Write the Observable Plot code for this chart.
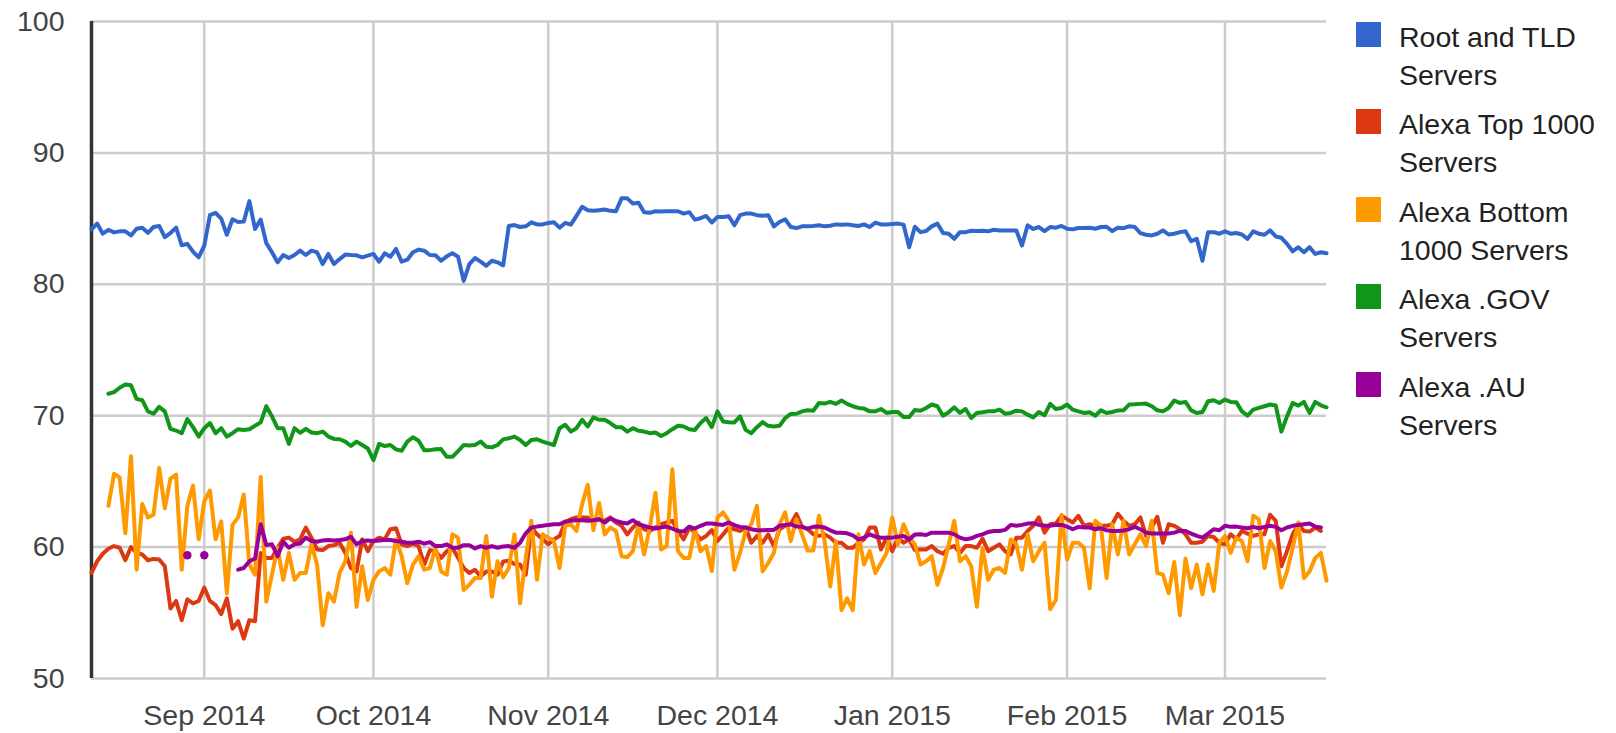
<!DOCTYPE html>
<html><head><meta charset="utf-8">
<script src="https://cdn.jsdelivr.net/npm/d3@7"></script>
<script src="https://cdn.jsdelivr.net/npm/@observablehq/plot@0.6"></script>
<style>
body{margin:0;background:#fff;}
#wrap{position:relative;width:1616px;height:733px;font-family:"Liberation Sans",Arial,sans-serif;}
.item{position:absolute;left:1356px;width:260px;height:80px;}
.sw{position:absolute;left:0;top:0;width:25px;height:25px;}
.lab{position:absolute;left:43px;top:-4px;font-size:28.5px;line-height:38px;color:#222;white-space:nowrap;}
</style></head>
<body><div id="wrap"></div>
<script>
// Daily series, first day = startDate, index = day offset
const startDate = [2014, 7, 12];   // 12 Aug 2014 (UTC)
const endDate = [2015, 2, 19];     // 19 Mar 2015
const seriesNames = ["Root and TLD Servers", "Alexa Top 1000 Servers", "Alexa Bottom 1000 Servers", "Alexa .GOV Servers", "Alexa .AU Servers"];
const legendLines = [["Root and TLD", "Servers"], ["Alexa Top 1000", "Servers"], ["Alexa Bottom", "1000 Servers"], ["Alexa .GOV", "Servers"], ["Alexa .AU", "Servers"]];
const seriesColors = ["#3366cc", "#dc3912", "#ff9900", "#109618", "#990099"];
const yTicks = [50, 60, 70, 80, 90, 100];

const rootTld = [
84.18,84.62,83.85,84.15,83.95,84.03,84.03,83.72,84.23,84.31,
83.92,84.36,84.44,83.59,83.90,84.31,82.97,83.08,82.49,82.05,
82.95,85.26,85.44,85.00,83.77,84.95,84.74,84.77,86.33,84.21,
84.92,83.13,82.44,81.67,82.23,82.00,82.23,82.56,82.23,82.56,
82.44,81.54,82.31,81.54,81.92,82.26,82.23,82.21,82.05,82.18,
82.31,81.72,82.36,82.10,82.69,81.72,81.87,82.44,82.64,82.56,
82.23,82.21,81.79,82.13,82.36,82.10,80.26,81.54,82.00,81.72,
81.41,81.79,81.67,81.44,84.44,84.51,84.36,84.41,84.72,84.56,
84.56,84.67,84.72,84.31,84.67,84.54,85.21,85.90,85.64,85.59,
85.64,85.69,85.59,85.56,86.54,86.54,86.15,86.21,85.49,85.44,
85.56,85.54,85.56,85.56,85.56,85.38,85.49,84.92,85.03,85.20,
84.70,85.13,85.13,85.18,84.49,85.26,85.38,85.38,85.26,85.21,
85.26,84.41,84.74,84.95,84.36,84.28,84.41,84.41,84.44,84.49,
84.41,84.46,84.56,84.54,84.56,84.49,84.44,84.56,84.36,84.69,
84.56,84.56,84.59,84.62,84.54,82.82,84.38,83.97,84.05,84.41,
84.62,83.90,83.85,83.46,83.97,83.97,84.08,84.05,84.08,84.03,
84.15,84.10,84.10,84.10,84.10,82.95,84.49,84.21,84.36,84.05,
84.36,84.31,84.44,84.23,84.18,84.28,84.28,84.31,84.23,84.36,
84.38,84.05,84.31,84.27,84.41,84.36,83.90,83.77,83.72,83.85,
84.10,83.79,83.85,83.97,84.03,83.28,83.46,81.79,83.97,83.97,
83.85,84.03,83.85,83.90,83.79,83.46,84.03,83.85,83.77,84.10,
83.64,83.54,83.08,82.51,82.82,82.44,82.82,82.31,82.44,82.36];

const alexaTop = [
58.03,58.92,59.49,59.87,60.08,59.95,59.00,60.00,59.56,59.44,
59.00,59.10,59.05,58.54,55.33,55.90,54.44,56.03,55.72,55.90,
56.92,55.90,55.59,54.90,56.10,53.79,54.36,53.03,54.44,54.36,
59.56,59.18,59.18,59.95,60.64,60.72,60.40,60.60,61.49,60.72,
59.82,59.77,60.08,60.15,60.33,59.56,58.41,58.15,60.59,59.69,
60.46,60.72,60.59,61.36,61.44,60.21,60.08,60.26,60.08,58.67,
59.77,59.69,59.18,59.69,59.95,59.18,58.41,58.03,58.28,57.77,
58.15,58.15,57.90,58.90,58.97,58.72,58.67,57.90,61.49,60.97,
60.59,60.21,60.59,60.85,61.87,62.13,62.26,62.26,62.26,61.87,
62.13,62.00,62.26,61.87,61.62,60.97,61.49,61.87,61.36,61.23,
61.49,61.74,61.87,62.00,61.23,60.59,61.49,61.10,60.59,60.85,
61.30,60.46,60.97,61.49,61.36,61.23,61.49,60.33,60.85,60.33,
60.97,60.08,61.36,61.62,61.74,62.51,61.54,61.36,60.97,60.85,
60.97,60.72,60.33,60.33,59.95,59.95,60.33,60.59,61.49,61.49,
59.82,60.72,59.69,60.72,60.33,60.59,59.78,59.82,59.82,60.08,
59.69,59.49,59.95,60.08,59.56,60.08,60.08,59.95,60.64,59.69,
59.95,60.21,59.69,59.44,60.72,60.72,61.23,61.62,62.26,61.10,
61.74,61.79,62.38,62.13,61.87,62.38,61.62,61.74,61.62,61.62,
61.62,61.74,62.54,62.00,61.62,61.74,62.26,60.85,61.49,62.31,
60.33,61.74,61.62,61.36,60.97,60.33,60.33,60.41,60.85,60.77,
60.33,60.21,60.97,60.59,61.23,61.03,60.85,60.97,60.97,62.46,
62.00,58.54,59.69,60.97,61.74,61.23,61.18,61.49,61.23,null];

const alexaBottom = [
null,null,null,63.15,65.59,65.28,61.05,66.92,58.28,63.28,
62.26,62.46,66.03,62.95,65.21,65.51,58.28,63.15,64.69,60.59,
63.49,64.31,60.59,61.95,56.49,61.69,62.26,64.00,58.67,57.90,
65.33,55.85,57.90,59.95,57.51,59.56,57.51,58.03,58.03,60.21,
58.67,54.05,56.49,55.85,58.03,58.92,61.10,55.46,58.54,55.97,
57.51,58.15,58.41,57.90,60.59,59.31,57.26,58.67,59.31,58.28,
58.41,59.95,58.15,57.90,60.97,60.72,56.74,57.13,57.64,57.64,
60.85,56.23,58.92,57.70,58.41,60.97,55.72,59.18,62.00,57.51,
60.97,60.72,60.46,58.41,61.62,61.74,61.23,63.28,64.74,61.28,
63.36,60.97,61.49,61.23,59.31,59.23,59.69,61.74,59.44,61.49,
64.13,59.82,60.08,65.92,59.69,59.18,59.18,61.36,59.69,60.08,
58.18,62.26,62.64,62.00,58.28,59.56,61.23,61.74,63.15,58.15,
58.79,59.56,61.74,62.64,60.46,62.13,60.97,59.74,59.74,62.38,
60.46,57.00,60.46,55.21,56.10,55.21,60.97,58.67,59.69,58.03,
58.79,59.56,62.26,60.21,61.74,60.72,60.21,58.67,58.92,59.31,
57.13,58.41,60.21,62.00,58.92,59.31,58.54,55.46,59.95,57.51,
58.28,58.41,58.03,60.59,60.21,58.28,60.97,58.92,59.69,60.33,
55.28,55.97,62.46,59.05,60.33,60.33,59.95,56.87,62.00,61.62,
57.64,61.74,59.44,62.00,59.44,60.21,60.97,60.08,62.00,58.03,
57.90,56.49,58.87,54.82,59.13,56.87,58.67,56.41,58.67,56.67,
60.33,60.85,59.56,60.72,60.46,58.92,62.38,62.13,58.41,60.46,
59.69,56.92,58.15,59.95,61.87,57.64,58.15,59.18,59.56,57.44];

const alexaGov = [
null,null,null,71.67,71.79,72.13,72.38,72.31,71.28,71.18,
70.33,70.15,70.67,70.33,69.00,68.87,68.67,69.74,69.13,68.41,
69.05,69.44,68.67,69.05,68.41,68.67,68.97,68.92,68.97,69.23,
69.49,70.72,69.95,69.05,69.05,67.85,69.05,68.70,69.00,68.72,
68.67,68.79,68.41,68.23,68.21,68.03,67.69,68.03,67.77,67.51,
66.62,67.85,67.69,67.77,67.44,67.33,68.03,68.36,68.10,67.38,
67.38,67.44,67.46,66.87,66.87,67.31,67.77,67.74,67.77,68.03,
67.64,67.59,67.77,68.20,68.28,68.41,68.15,67.77,68.15,68.21,
68.03,67.90,67.77,69.05,69.31,68.79,69.05,69.69,69.18,69.87,
69.69,69.69,69.44,69.13,69.13,68.79,69.05,68.85,68.79,68.67,
68.72,68.46,68.67,68.97,69.23,69.18,68.97,68.92,69.44,69.82,
69.13,70.33,69.56,69.51,69.49,69.95,68.92,68.67,69.13,69.51,
69.23,69.18,69.23,69.82,70.13,70.15,70.33,70.41,70.38,70.97,
70.92,71.05,70.90,71.15,70.90,70.72,70.59,70.54,70.33,70.33,
70.51,70.21,70.28,70.28,69.90,69.90,70.44,70.38,70.59,70.85,
70.72,70.00,70.26,70.64,70.21,70.51,69.82,70.21,70.26,70.33,
70.33,70.46,70.15,70.21,70.38,70.33,70.08,69.87,70.28,70.03,
70.90,70.51,70.59,70.85,70.46,70.33,70.21,70.26,70.00,70.41,
70.21,70.28,70.40,70.41,70.85,70.87,70.90,70.92,70.72,70.41,
70.33,70.59,71.15,70.97,71.05,70.41,70.21,70.28,71.10,71.18,
70.97,71.23,71.05,71.03,70.33,70.00,70.46,70.59,70.72,70.85,
70.77,68.79,69.95,70.97,70.77,71.05,70.21,71.05,70.79,70.64];

const alexaAu = [
null,null,null,null,null,null,null,null,null,null,
null,null,null,null,null,null,null,59.38,null,null,
59.38,null,null,null,null,null,58.28,58.41,58.92,59.13,
61.74,60.15,60.21,59.31,60.41,59.95,60.21,60.27,60.72,60.46,
60.41,60.51,60.54,60.51,60.54,60.59,60.79,60.21,60.46,60.51,
60.46,60.51,60.54,60.54,60.46,60.41,60.33,60.33,60.41,60.26,
60.38,60.08,60.08,60.21,59.95,59.95,60.15,60.15,59.90,60.08,
59.95,60.08,59.95,60.04,60.08,59.95,60.33,61.05,61.49,61.56,
61.62,61.69,61.74,61.74,61.95,62.00,62.05,62.05,62.00,62.05,
62.13,61.87,62.18,62.00,61.87,61.79,62.05,61.74,61.62,61.49,
61.41,61.49,61.56,61.41,61.23,61.18,61.56,61.41,61.62,61.79,
61.80,61.74,61.69,61.87,61.67,61.54,61.49,61.36,61.28,61.28,
61.31,61.31,61.62,61.69,61.74,61.56,61.54,61.41,61.54,61.56,
61.49,61.28,61.10,61.10,61.05,60.90,60.59,60.72,60.97,60.79,
60.72,60.72,60.72,60.79,60.85,60.59,60.95,60.97,60.92,61.10,
61.10,61.10,61.10,60.97,60.72,60.59,60.67,60.85,60.97,61.15,
61.23,61.23,61.31,61.69,61.62,61.69,61.79,61.82,61.69,61.62,
61.62,61.69,61.69,61.56,61.36,61.54,61.49,61.49,61.36,61.44,
61.28,61.23,61.23,61.26,61.36,61.54,61.36,61.10,61.03,61.03,
61.03,61.03,61.10,61.23,61.23,61.03,60.85,60.72,61.03,61.36,
61.28,61.62,61.54,61.56,61.49,61.44,61.54,61.44,61.54,61.62,
61.54,61.28,61.49,61.62,61.69,61.74,61.79,61.56,61.49,null];

const seriesValues = [rootTld, alexaTop, alexaBottom, alexaGov, alexaAu];

const t0 = new Date(Date.UTC(...startDate));
const t1 = new Date(Date.UTC(...endDate));
const rows = [];
seriesValues.forEach((vals, si) => {
  vals.forEach((v, i) => rows.push({series: seriesNames[si], date: d3.utcDay.offset(t0, i), value: v, idx: i, si}));
});
// isolated points (no neighbour on either side) are shown as dots
const isolated = rows.filter(r => r.value != null &&
  seriesValues[r.si][r.idx - 1] == null && seriesValues[r.si][r.idx + 1] == null);

const monthTicks = d3.utcMonth.range(d3.utcMonth.ceil(t0), t1);

const chart = Plot.plot({
  width: 1616, height: 733,
  marginLeft: 91, marginRight: 290, marginTop: 21, marginBottom: 55,
  style: {fontFamily: '"Liberation Sans", Arial, sans-serif', color: "#444", background: "#fff"},
  x: {type: "utc", domain: [t0, t1], label: null},
  y: {domain: [50, 100], label: null},
  color: {domain: seriesNames, range: seriesColors},
  marks: [
    Plot.gridY(yTicks, {stroke: "#cccccc", strokeOpacity: 1, strokeWidth: 2.5}),
    Plot.gridX(monthTicks, {stroke: "#cccccc", strokeOpacity: 1, strokeWidth: 2.5}),
    Plot.ruleX([t0], {stroke: "#333", strokeWidth: 3.5}),
    Plot.axisY(yTicks, {tickSize: 0, tickPadding: 27, fontSize: 28.5, fill: "#444", label: null}),
    Plot.axisX(monthTicks, {tickSize: 0, tickPadding: 26, fontSize: 28.5, fill: "#444", label: null, tickFormat: d3.utcFormat("%b %Y")}),
    Plot.line(rows, {x: "date", y: "value", z: "series", stroke: "series", strokeWidth: 4, strokeLinejoin: "round", strokeLinecap: "round"}),
    Plot.dot(isolated, {x: "date", y: "value", fill: "series", r: 4.2, stroke: "none"})
  ]
});
const wrap = document.getElementById("wrap");
wrap.appendChild(chart);

const legendTops = [21.6, 109, 196.5, 284, 371.5];
legendLines.forEach((lines, i) => {
  const item = document.createElement("div");
  item.className = "item";
  item.style.top = legendTops[i] + "px";
  const sw = document.createElement("div");
  sw.className = "sw";
  sw.style.background = seriesColors[i];
  const lab = document.createElement("div");
  lab.className = "lab";
  lab.innerHTML = lines.map(s => s.replace(/&/g, "&amp;")).join("<br>");
  item.appendChild(sw); item.appendChild(lab);
  wrap.appendChild(item);
});
</script>
</body></html>
